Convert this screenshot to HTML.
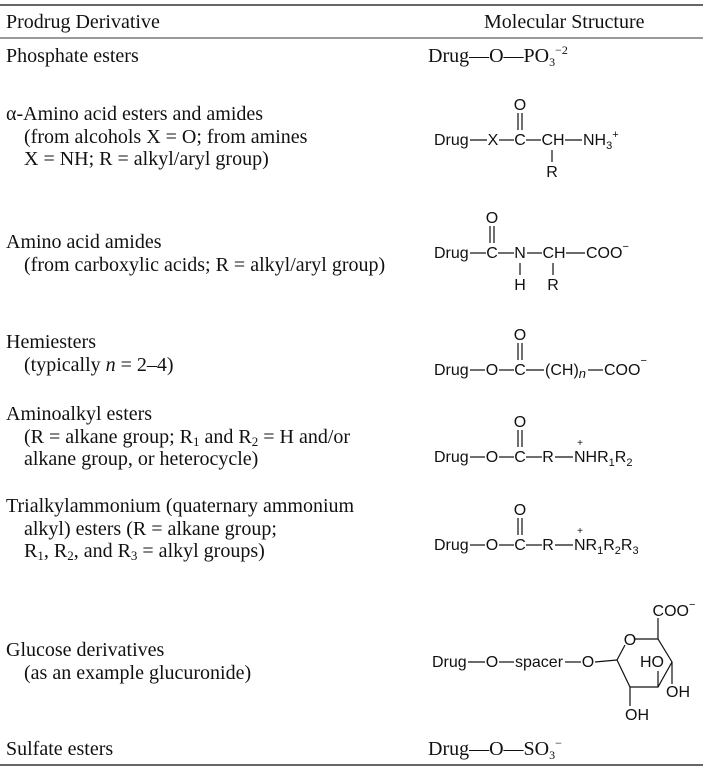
<!DOCTYPE html>
<html><head><meta charset="utf-8"><style>
html,body{margin:0;padding:0;background:#fff;}
svg{display:block}
.s{font-family:"Liberation Serif",serif;font-size:20px;fill:#111}
.a{font-family:"Liberation Sans",sans-serif;font-size:16px;fill:#111}
.sm{font-family:"Liberation Sans",sans-serif;font-size:10px;fill:#111}
line,polyline{stroke:#111;stroke-width:1.2;fill:none}
</style></head><body>
<svg width="703" height="768" viewBox="0 0 703 768">
<line x1="0" y1="5" x2="703" y2="5" style="stroke:#333;stroke-width:1.5"/>
<line x1="0" y1="38" x2="703" y2="38" style="stroke:#333;stroke-width:1"/>
<line x1="0" y1="765" x2="703" y2="765" style="stroke:#333;stroke-width:1.5"/>
<text class="s" x="6" y="28">Prodrug Derivative</text>
<text class="s" x="484" y="28">Molecular Structure</text>

<text class="s" x="6" y="62">Phosphate esters</text>
<text class="s" x="428" y="62">Drug—O—PO<tspan font-size="12" dy="4">3</tspan><tspan font-size="12" dy="-12">−2</tspan></text>

<text class="s" x="6" y="120">α-Amino acid esters and amides</text>
<text class="s" x="24" y="143">(from alcohols X = O; from amines</text>
<text class="s" x="24" y="165">X = NH; R = alkyl/aryl group)</text>

<text class="s" x="6" y="248">Amino acid amides</text>
<text class="s" x="24" y="271">(from carboxylic acids; R = alkyl/aryl group)</text>

<text class="s" x="6" y="348">Hemiesters</text>
<text class="s" x="24" y="371">(typically <tspan font-style="italic">n</tspan> = 2–4)</text>

<text class="s" x="6" y="420">Aminoalkyl esters</text>
<text class="s" x="24" y="443">(R = alkane group; R<tspan font-size="13" dy="3">1</tspan><tspan dy="-3"> and R</tspan><tspan font-size="13" dy="3">2</tspan><tspan dy="-3"> = H and/or</tspan></text>
<text class="s" x="24" y="465">alkane group, or heterocycle)</text>

<text class="s" x="6" y="512">Trialkylammonium (quaternary ammonium</text>
<text class="s" x="24" y="535">alkyl) esters (R = alkane group;</text>
<text class="s" x="24" y="557">R<tspan font-size="13" dy="3">1</tspan><tspan dy="-3">, R</tspan><tspan font-size="13" dy="3">2</tspan><tspan dy="-3">, and R</tspan><tspan font-size="13" dy="3">3</tspan><tspan dy="-3"> = alkyl groups)</tspan></text>

<text class="s" x="6" y="656">Glucose derivatives</text>
<text class="s" x="24" y="679">(as an example glucuronide)</text>

<text class="s" x="6" y="755">Sulfate esters</text>
<text class="s" x="428" y="755">Drug—O—SO<tspan font-size="12" dy="4">3</tspan><tspan font-size="12" dy="-12">−</tspan></text>

<!-- Row 1 -->
<g>
<text class="a" x="434" y="145">Drug</text>
<line x1="470" y1="140" x2="487" y2="140"/>
<text class="a" x="493" y="145" text-anchor="middle">X</text>
<line x1="499" y1="140" x2="514" y2="140"/>
<text class="a" x="520" y="145" text-anchor="middle">C</text>
<line x1="526" y1="140" x2="541" y2="140"/>
<text class="a" x="553" y="145" text-anchor="middle">CH</text>
<line x1="565" y1="140" x2="582" y2="140"/>
<text class="a" x="583" y="145">NH<tspan font-size="11" dy="4">3</tspan><tspan font-size="11" dy="-11">+</tspan></text>
<text class="a" x="520" y="110" text-anchor="middle">O</text>
<line x1="518" y1="113" x2="518" y2="130"/><line x1="522" y1="113" x2="522" y2="130"/>
<line x1="552" y1="150" x2="552" y2="162"/>
<text class="a" x="552" y="177" text-anchor="middle">R</text>
</g>

<!-- Row 2 -->
<g>
<text class="a" x="434" y="258">Drug</text>
<line x1="470" y1="253" x2="486" y2="253"/>
<text class="a" x="492" y="258" text-anchor="middle">C</text>
<line x1="498" y1="253" x2="514" y2="253"/>
<text class="a" x="520" y="258" text-anchor="middle">N</text>
<line x1="527" y1="253" x2="542" y2="253"/>
<text class="a" x="554" y="258" text-anchor="middle">CH</text>
<line x1="566" y1="253" x2="585" y2="253"/>
<text class="a" x="586" y="258">COO<tspan font-size="11" dy="-8">−</tspan></text>
<text class="a" x="492" y="223" text-anchor="middle">O</text>
<line x1="490" y1="226" x2="490" y2="243"/><line x1="494" y1="226" x2="494" y2="243"/>
<line x1="520" y1="263" x2="520" y2="275"/>
<line x1="553" y1="263" x2="553" y2="275"/>
<text class="a" x="520" y="290" text-anchor="middle">H</text>
<text class="a" x="553" y="290" text-anchor="middle">R</text>
</g>

<!-- Row 3 -->
<g>
<text class="a" x="434" y="375">Drug</text>
<line x1="470" y1="370" x2="485" y2="370"/>
<text class="a" x="492" y="375" text-anchor="middle">O</text>
<line x1="499" y1="370" x2="514" y2="370"/>
<text class="a" x="520" y="375" text-anchor="middle">C</text>
<line x1="526" y1="370" x2="544" y2="370"/>
<text class="a" x="545" y="375">(CH)<tspan font-style="italic" font-size="13" dy="3">n</tspan></text>
<line x1="588" y1="370" x2="603" y2="370"/>
<text class="a" x="604" y="375">COO<tspan font-size="11" dy="-11">−</tspan></text>
<text class="a" x="520" y="340" text-anchor="middle">O</text>
<line x1="518" y1="343" x2="518" y2="360"/><line x1="522" y1="343" x2="522" y2="360"/>
</g>

<!-- Row 4 -->
<g>
<text class="a" x="434" y="462">Drug</text>
<line x1="470" y1="457" x2="485" y2="457"/>
<text class="a" x="492" y="462" text-anchor="middle">O</text>
<line x1="499" y1="457" x2="514" y2="457"/>
<text class="a" x="520" y="462" text-anchor="middle">C</text>
<line x1="526" y1="457" x2="542" y2="457"/>
<text class="a" x="548" y="462" text-anchor="middle">R</text>
<line x1="555" y1="457" x2="573" y2="457"/>
<text class="a" x="574" y="462">NHR<tspan font-size="11" dy="4">1</tspan><tspan dy="-4">R</tspan><tspan font-size="11" dy="4">2</tspan></text>
<text class="sm" x="580" y="446" text-anchor="middle">+</text>
<text class="a" x="520" y="427" text-anchor="middle">O</text>
<line x1="518" y1="430" x2="518" y2="447"/><line x1="522" y1="430" x2="522" y2="447"/>
</g>

<!-- Row 5 -->
<g>
<text class="a" x="434" y="550">Drug</text>
<line x1="470" y1="545" x2="485" y2="545"/>
<text class="a" x="492" y="550" text-anchor="middle">O</text>
<line x1="499" y1="545" x2="514" y2="545"/>
<text class="a" x="520" y="550" text-anchor="middle">C</text>
<line x1="526" y1="545" x2="542" y2="545"/>
<text class="a" x="548" y="550" text-anchor="middle">R</text>
<line x1="555" y1="545" x2="573" y2="545"/>
<text class="a" x="574" y="550">NR<tspan font-size="11" dy="4">1</tspan><tspan dy="-4">R</tspan><tspan font-size="11" dy="4">2</tspan><tspan dy="-4">R</tspan><tspan font-size="11" dy="4">3</tspan></text>
<text class="sm" x="580" y="534" text-anchor="middle">+</text>
<text class="a" x="520" y="515" text-anchor="middle">O</text>
<line x1="518" y1="518" x2="518" y2="535"/><line x1="522" y1="518" x2="522" y2="535"/>
</g>

<!-- Glucuronide -->
<g>
<text class="a" x="432" y="667">Drug</text>
<line x1="468" y1="662" x2="485" y2="662"/>
<text class="a" x="492" y="667" text-anchor="middle">O</text>
<line x1="499" y1="662" x2="514" y2="662"/>
<text class="a" x="515" y="667">spacer</text>
<line x1="565" y1="662" x2="581" y2="662"/>
<text class="a" x="588" y="667" text-anchor="middle">O</text>
<line x1="595" y1="662" x2="617" y2="660"/>
<polyline points="617,660 625,645"/>
<polyline points="635,639 658,639 672,662 658,687 630,687 617,660"/>
<text class="a" x="630" y="645" text-anchor="middle">O</text>
<line x1="658" y1="639" x2="658" y2="618"/>
<text class="a" x="674" y="616" text-anchor="middle">COO<tspan font-size="11" dy="-8">−</tspan></text>
<text class="a" x="652" y="667" text-anchor="middle">HO</text>
<line x1="658" y1="671" x2="658" y2="687"/>
<line x1="672" y1="662" x2="672" y2="684"/>
<text class="a" x="678" y="697" text-anchor="middle">OH</text>
<line x1="630" y1="687" x2="630" y2="706"/>
<text class="a" x="637" y="720" text-anchor="middle">OH</text>
</g>
</svg>
</body></html>
